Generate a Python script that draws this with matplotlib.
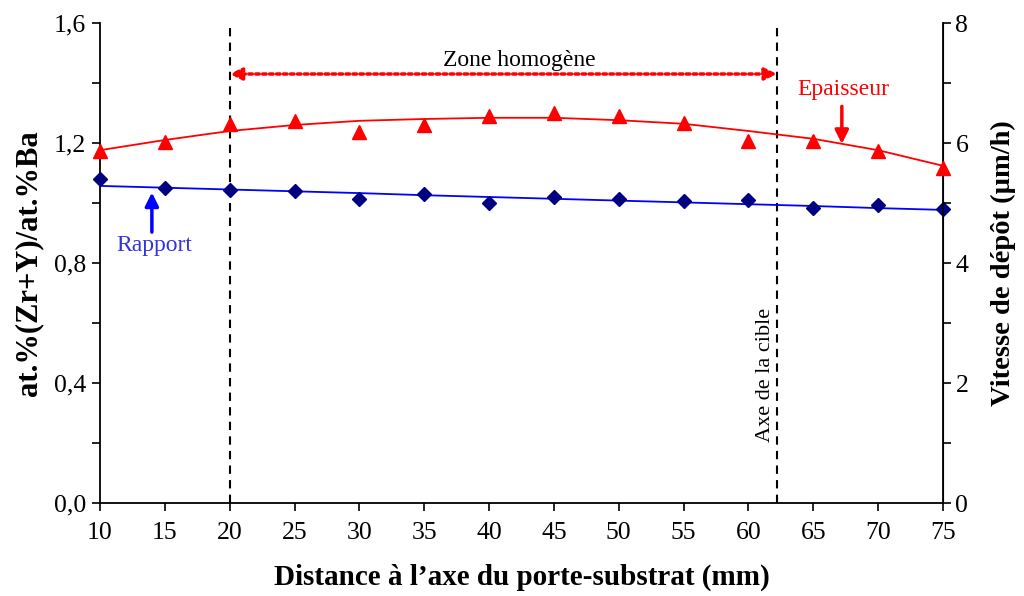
import matplotlib
matplotlib.use("Agg")
import matplotlib.pyplot as plt
from matplotlib.ticker import MultipleLocator

plt.rcParams['font.family'] = ['Liberation Serif', 'DejaVu Serif']

distance = [10, 15, 20, 25, 30, 35, 40, 45, 50, 55, 60, 65, 70, 75]
rapport = [1.08, 1.05, 1.043, 1.04, 1.013, 1.03, 1.0, 1.02, 1.013, 1.007, 1.01, 0.983, 0.993, 0.98]
rapport_trend = [1.057, 1.051, 1.045, 1.039, 1.033, 1.026, 1.020, 1.014, 1.008, 1.002, 0.996, 0.990, 0.983, 0.977]
vitesse = [5.87, 6.02, 6.32, 6.37, 6.18, 6.30, 6.45, 6.50, 6.45, 6.33, 6.03, 6.03, 5.87, 5.58]
vitesse_trend = [5.88, 6.05, 6.20, 6.30, 6.37, 6.40, 6.42, 6.42, 6.38, 6.32, 6.20, 6.07, 5.88, 5.62]

zone_start = 20
axe_cible = 62.2

fig = plt.figure(figsize=(10.24, 5.96), dpi=100)
ax = fig.add_axes([100/1024, 1 - 503/596, 843/1024, 480/596])
ax2 = ax.twinx()

# Left axis: ratio
ax.plot(distance, rapport_trend, color='#0000FF', lw=1.3, zorder=2)
ax.plot(distance, rapport, linestyle='none', marker='D', ms=7, color='#000080', zorder=3, clip_on=False)
# Right axis: deposition rate
ax2.plot(distance, vitesse_trend, color='#FF0000', lw=1.3, zorder=2)
ax2.plot(distance, vitesse, linestyle='none', marker='^', ms=9.5, color='#FF0000', zorder=3, clip_on=False)

ax.set_xlim(10, 75)
ax.set_ylim(0, 1.6)
ax2.set_ylim(0, 8)

ax.xaxis.set_major_locator(MultipleLocator(5))
ax.yaxis.set_major_locator(MultipleLocator(0.4))
ax.yaxis.set_minor_locator(MultipleLocator(0.2))
ax2.yaxis.set_major_locator(MultipleLocator(2))
ax2.yaxis.set_minor_locator(MultipleLocator(1))
ax.yaxis.set_major_formatter(matplotlib.ticker.FuncFormatter(lambda v, p: f"{v:.1f}".replace('.', ',')))

for a in (ax, ax2):
    a.spines['top'].set_visible(False)
    a.tick_params(axis='both', which='both', direction='out', labelsize=18.5, width=1.2, colors='black')
    a.tick_params(which='major', length=6)
    a.tick_params(which='minor', length=6)
ax.tick_params(axis='y', pad=4)
ax.tick_params(axis='x', pad=8)
ax2.tick_params(axis='y', pad=3)
for s in ('left', 'bottom'):
    ax.spines[s].set_linewidth(1.3)
ax2.spines['right'].set_linewidth(1.3)
ax2.spines['left'].set_visible(False)
ax2.spines['bottom'].set_visible(False)

ax.set_xlabel("Distance à l\u2019axe du porte-substrat (mm)", fontsize=21, fontweight='bold', labelpad=14)
ax.set_ylabel("at.%(Zr+Y)/at.%Ba", fontsize=22, fontweight='bold', labelpad=8)
ax2.set_ylabel("Vitesse de dépôt (µm/h)", fontsize=20.5, fontweight='bold', labelpad=16)

# Vertical dashed lines
for xv in (zone_start, axe_cible):
    ax.plot([xv, xv], [0, 1.59], color='black', lw=1.5, linestyle=(0, (4, 3)), zorder=1)

# Zone homogene double arrow
ax.annotate('', xy=(zone_start, 1.43), xytext=(axe_cible, 1.43),
            arrowprops=dict(arrowstyle='<|-|>', color='#FF0000', lw=2.5, linestyle=(0, (1, 1)),
                            mutation_scale=18, shrinkA=0, shrinkB=0))
ax.text(42.3, 1.44, "Zone homogène", ha='center', va='bottom', fontsize=17, color='black')

# Axe de la cible
ax.text(61.3, 0.427, "Axe de la cible", rotation=90, ha='center', va='center', fontsize=16, color='black')

# Epaisseur label + arrow
ax.text(67.3, 1.377, "Epaisseur", ha='center', va='center', fontsize=17, color='#FF0000')
ax.annotate('', xy=(67.2, 1.197), xytext=(67.2, 1.322),
            arrowprops=dict(arrowstyle='-|>', color='#FF0000', lw=2.5, mutation_scale=20, shrinkA=0, shrinkB=0))

# Rapport label + arrow
ax.text(14.2, 0.86, "Rapport", ha='center', va='center', fontsize=17, color='#3333DD')
ax.annotate('', xy=(14.0, 1.035), xytext=(14.0, 0.903),
            arrowprops=dict(arrowstyle='-|>', color='#0000FF', lw=2.5, mutation_scale=20, shrinkA=0, shrinkB=0))

fig.savefig("out.png", dpi=100)
